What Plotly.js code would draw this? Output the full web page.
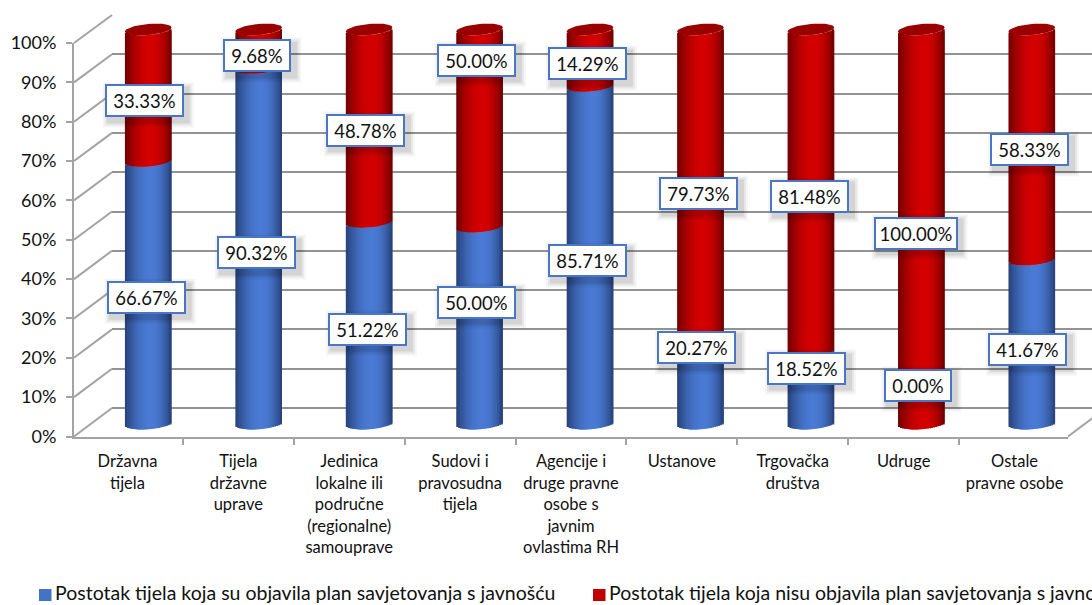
<!DOCTYPE html>
<html><head><meta charset="utf-8">
<script src="https://cdn.plot.ly/plotly-3.0.1.min.js"></script>
<style>html,body{margin:0;padding:0;background:#fff;overflow:hidden;width:1092px;height:605px}</style>
</head><body><div id="chart" style="width:1300px;height:605px"></div>
<script>
const categories = ["Državna<br>tijela","Tijela<br>državne<br>uprave","Jedinica<br>lokalne ili<br>područne<br>(regionalne)<br>samouprave","Sudovi i<br>pravosudna<br>tijela","Agencije i<br>druge pravne<br>osobe s<br>javnim<br>ovlastima RH","Ustanove","Trgovačka<br>društva","Udruge","Ostale<br>pravne osobe"];
const published = [66.67,90.32,51.22,50.00,85.71,20.27,18.52,0.00,41.67];
const notPublished = [33.33,9.68,48.78,50.00,14.29,79.73,81.48,100.00,58.33];
const seriesNames = ["Postotak tijela koja su objavila plan savjetovanja s javnošću","Postotak tijela koja nisu objavila plan savjetovanja s javnošću"];
// label nudges in pixels relative to the middle of each segment
const publishedNudgeX = [-2,-2.4,-1.8,-3.2,-2.6,-4,-4.4,-3.8,-4.2];
const publishedNudgeY = [-5,-7.4,-6.4,23,-6.3,35.6,19,38.5,-7.6];
const notPublishedNudgeX = [-4,-1.4,-3.8,-3.2,-2.6,-2,-1.4,-5.8,-2.2];
const notPublishedNudgeY = [-5.8,-7.4,-4.4,68,-6.3,-7.4,-6,-6.5,-5.5];

const W=1300,H=605;
const dx=v=>v/W, dy=v=>1-v/H;
const FONT="Lato, 'Open Sans', sans-serif";
const pctPx=3.94, catPx=110.44, halfW=23.3, capB=5.6, capK=2;
const idx=categories.map((_,i)=>i);
const mix=(a,b,t)=>`rgb(${a.map((c,i)=>Math.round(c+(b[i]-c)*t)).join(",")})`;
const shade=u=>{const c=0.12,d=u<c?1.12:0.88,r=(u-c)/d;return Math.pow(Math.max(0,1-r*r),1.0);};

const traces=[];
const hidden={mode:"markers",marker:{opacity:0},hoverinfo:"skip",showlegend:false};
traces.push(Object.assign({type:"scatter",x:categories,y:published,xaxis:"x",yaxis:"y"},hidden));
traces.push(Object.assign({type:"scatter",x:idx,y:published,xaxis:"x2",yaxis:"y2"},hidden));

const N=24;
for(let s=0;s<N;s++){
  const u=(s+0.5)/N*2-1;
  const front=(capB*Math.sqrt(1-u*u)-capK*u)/pctPx;
  const off=(s/N*2-1)*halfW/catPx, stripW=(2/N)*halfW/catPx;
  // every strip runs under its right-hand neighbour, so no seam can open between them
  const wid=s<N-1?stripW*2:stripW;
  const common={type:"bar",x:idx,xaxis:"x3",yaxis:"y3",offset:off,width:wid,hoverinfo:"skip",showlegend:false};
  traces.push(Object.assign({},common,{name:seriesNames[0],y:published,base:published.map(()=>-front),
    marker:{color:mix([38,64,118],[74,122,212],shade(u)),line:{width:0}}}));
  traces.push(Object.assign({},common,{name:seriesNames[1],y:notPublished,base:published.map(v=>v-front),
    marker:{color:mix([110,0,0],[212,0,0],shade(u)),line:{width:0}}}));
}
// top caps of the cylinders
idx.forEach(i=>{
  const xs=[],ys=[],top=published[i]+notPublished[i];
  for(let a=0;a<=48;a++){const t=a/48*2*Math.PI;
    xs.push(i+halfW*Math.cos(t)/catPx);
    ys.push(top+(capB*Math.sin(t)+capK*Math.cos(t))/pctPx);}
  traces.push({type:"scatter",x:xs,y:ys,xaxis:"x3",yaxis:"y3",mode:"lines",fill:"toself",fillcolor:"#9b0000",line:{width:0,color:"#9b0000"},hoverinfo:"skip",showlegend:false});
});

const shapes=[],annotations=[];
const wallColor="#a3a3a3";
[0,10,20,30,40,50,60,70,80,90,100].forEach(v=>{
  shapes.push({type:"line",xref:"paper",yref:"paper",x0:dx(74),y0:dy(436.5-v*3.935),x1:dx(112),y1:dy(408-v*3.93),line:{color:wallColor,width:2},layer:"below"});
});
shapes.push({type:"line",xref:"paper",yref:"paper",x0:dx(1068),y0:dy(436.5),x1:dx(1106),y1:dy(408),line:{color:wallColor,width:2},layer:"below"});

const boxW=t=>t.length>=7?84:t.length===6?79:68;
function addLabel(i,mid,val,nx,ny){
  const t=val.toFixed(2)+"%",w=boxW(t);
  [[6,0.04],[4,0.06],[2,0.08]].forEach(([g,al])=>{
    shapes.push({type:"rect",xref:"x3",yref:"y3",xsizemode:"pixel",ysizemode:"pixel",xanchor:i,yanchor:mid,
      x0:nx-w/2+4-g,x1:nx+w/2+4+g,y0:ny-16.5-4-g,y1:ny+16.5-4+g,line:{width:0},fillcolor:`rgba(0,0,0,${al})`,layer:"above"});
  });
  annotations.push({xref:"x3",yref:"y3",x:i,y:mid,xshift:nx,yshift:ny,text:t,showarrow:false,width:w-4,height:29,
    align:"center",valign:"middle",bgcolor:"#fff",bordercolor:"#4a76c6",borderwidth:2,borderpad:0,
    font:{family:FONT,size:18.5,color:"#111"}});
}
idx.forEach(i=>{
  addLabel(i,published[i]/2,published[i],publishedNudgeX[i],publishedNudgeY[i]);
  addLabel(i,published[i]+notPublished[i]/2,notPublished[i],notPublishedNudgeX[i],notPublishedNudgeY[i]);
});
// legend
[[39,"#4472c4",53,0],[593,"#c00000",607,1]].forEach(([sx,col,tx,k])=>{
  shapes.push({type:"rect",xref:"paper",yref:"paper",x0:dx(sx),x1:dx(sx+12.5),y0:dy(601),y1:dy(589),fillcolor:col,line:{width:0}});
  annotations.push({xref:"paper",yref:"paper",x:dx(tx),y:dy(592.5),xanchor:"left",yanchor:"middle",text:seriesNames[k],showarrow:false,
    font:{family:FONT,size:19.5,color:"#111"}});
});

const layout={width:W,height:H,margin:{l:0,r:0,t:0,b:0},paper_bgcolor:"#fff",plot_bgcolor:"rgba(0,0,0,0)",barmode:"overlay",showlegend:false,
  xaxis:{type:"category",domain:[dx(74),dx(1068)],anchor:"y",tickson:"boundaries",ticks:"outside",ticklen:6,tickcolor:wallColor,tickwidth:2,
    showline:true,linecolor:wallColor,linewidth:2,showgrid:false,zeroline:false,tickangle:0,tickfont:{family:FONT,size:16.5,color:"#111"},ticklabelstandoff:9,fixedrange:true},
  yaxis:{domain:[dy(436.5),dy(43)],anchor:"x",range:[0,100],dtick:10,tick0:0,ticksuffix:"%",ticks:"outside",ticklen:6,tickcolor:wallColor,tickwidth:2,
    showline:true,linecolor:wallColor,linewidth:2,showgrid:false,zeroline:false,tickfont:{family:FONT,size:18,color:"#111"},ticklabelstandoff:6,fixedrange:true},
  xaxis2:{domain:[dx(112),dx(1106)],anchor:"y2",range:[-0.5,8.5],showgrid:false,showticklabels:false,ticks:"",zeroline:false,showline:false},
  yaxis2:{domain:[dy(408),dy(15)],anchor:"x2",range:[0,100],dtick:10,tick0:0,showgrid:true,gridcolor:"#939393",gridwidth:2,showticklabels:false,ticks:"",zeroline:true,zerolinecolor:"#939393",zerolinewidth:2,showline:false},
  xaxis3:{domain:[dx(93),dx(1087)],anchor:"y3",range:[-0.5,8.5],showgrid:false,showticklabels:false,ticks:"",zeroline:false,showline:false},
  yaxis3:{domain:[dy(423.5+5*pctPx),dy(29.5-5*pctPx)],anchor:"x3",range:[-5,105],showgrid:false,showticklabels:false,ticks:"",zeroline:false,showline:false},
  shapes,annotations};
Plotly.newPlot("chart",traces,layout,{displayModeBar:false});
</script></body></html>
